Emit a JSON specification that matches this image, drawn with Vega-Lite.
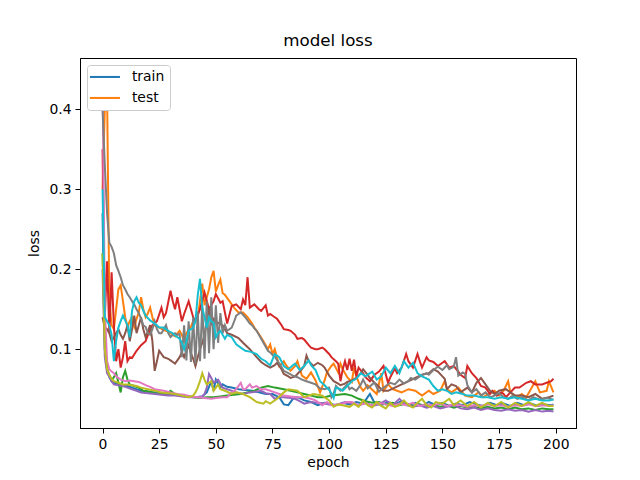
{
"$schema":"https://vega.github.io/schema/vega-lite/v6.json",
"width":496,"height":370,
"autosize":{"type":"none"},
"padding":{"left":80,"top":58,"right":64,"bottom":52},
"title":{"text":"model loss","fontSize":16.7,"fontWeight":"normal","font":"DejaVu Sans","color":"black","offset":8,"anchor":"middle"},
"config":{"font":"DejaVu Sans","view":{"stroke":"black","strokeWidth":1}},
"data":{"values":[
{"s":"train","e":0,"v":0.27},{"s":"train","e":1,"v":0.10},{"s":"train","e":2,"v":0.075},{"s":"train","e":3,"v":0.065},{"s":"train","e":4,"v":0.06},{"s":"train","e":5,"v":0.058},{"s":"train","e":7,"v":0.057},{"s":"train","e":9,"v":0.055},{"s":"train","e":11,"v":0.054},{"s":"train","e":13,"v":0.052},{"s":"train","e":15,"v":0.05},{"s":"train","e":17,"v":0.048},{"s":"train","e":20,"v":0.047},{"s":"train","e":23,"v":0.046},{"s":"train","e":26,"v":0.045},{"s":"train","e":29,"v":0.044},{"s":"train","e":32,"v":0.043},{"s":"train","e":35,"v":0.042},{"s":"train","e":38,"v":0.041},{"s":"train","e":41,"v":0.04},{"s":"train","e":44,"v":0.041},{"s":"train","e":46,"v":0.046},{"s":"train","e":48,"v":0.06},{"s":"train","e":49,"v":0.048},{"s":"train","e":50,"v":0.062},{"s":"train","e":52,"v":0.052},{"s":"train","e":53,"v":0.056},{"s":"train","e":55,"v":0.053},{"s":"train","e":57,"v":0.052},{"s":"train","e":60,"v":0.05},{"s":"train","e":63,"v":0.049},{"s":"train","e":66,"v":0.048},{"s":"train","e":69,"v":0.046},{"s":"train","e":72,"v":0.044},{"s":"train","e":75,"v":0.044},{"s":"train","e":78,"v":0.04},{"s":"train","e":80,"v":0.031},{"s":"train","e":82,"v":0.03},{"s":"train","e":84,"v":0.038},{"s":"train","e":86,"v":0.04},{"s":"train","e":89,"v":0.036},{"s":"train","e":92,"v":0.034},{"s":"train","e":95,"v":0.03},{"s":"train","e":98,"v":0.033},{"s":"train","e":100,"v":0.032},{"s":"train","e":103,"v":0.03},{"s":"train","e":106,"v":0.033},{"s":"train","e":109,"v":0.031},{"s":"train","e":112,"v":0.034},{"s":"train","e":115,"v":0.032},{"s":"train","e":118,"v":0.044},{"s":"train","e":120,"v":0.033},{"s":"train","e":123,"v":0.03},{"s":"train","e":126,"v":0.034},{"s":"train","e":129,"v":0.031},{"s":"train","e":132,"v":0.035},{"s":"train","e":135,"v":0.03},{"s":"train","e":138,"v":0.033},{"s":"train","e":141,"v":0.029},{"s":"train","e":144,"v":0.034},{"s":"train","e":147,"v":0.03},{"s":"train","e":150,"v":0.033},{"s":"train","e":153,"v":0.029},{"s":"train","e":156,"v":0.032},{"s":"train","e":159,"v":0.03},{"s":"train","e":162,"v":0.034},{"s":"train","e":165,"v":0.031},{"s":"train","e":168,"v":0.029},{"s":"train","e":171,"v":0.033},{"s":"train","e":174,"v":0.03},{"s":"train","e":177,"v":0.032},{"s":"train","e":180,"v":0.029},{"s":"train","e":183,"v":0.033},{"s":"train","e":186,"v":0.03},{"s":"train","e":189,"v":0.032},{"s":"train","e":192,"v":0.029},{"s":"train","e":195,"v":0.031},{"s":"train","e":198,"v":0.03},{"s":"train","e":199,"v":0.031},
{"s":"test","e":0,"v":0.30},{"s":"test","e":1,"v":0.40},{"s":"test","e":2,"v":0.42},{"s":"test","e":3,"v":0.16},{"s":"test","e":4,"v":0.13},{"s":"test","e":5,"v":0.125},{"s":"test","e":6,"v":0.15},{"s":"test","e":7,"v":0.175},{"s":"test","e":8,"v":0.18},{"s":"test","e":9,"v":0.16},{"s":"test","e":10,"v":0.14},{"s":"test","e":11,"v":0.128},{"s":"test","e":12,"v":0.135},{"s":"test","e":13,"v":0.14},{"s":"test","e":14,"v":0.128},{"s":"test","e":15,"v":0.138},{"s":"test","e":16,"v":0.146},{"s":"test","e":17,"v":0.165},{"s":"test","e":18,"v":0.15},{"s":"test","e":19,"v":0.14},{"s":"test","e":20,"v":0.145},{"s":"test","e":21,"v":0.152},{"s":"test","e":22,"v":0.14},{"s":"test","e":23,"v":0.13},{"s":"test","e":25,"v":0.127},{"s":"test","e":27,"v":0.124},{"s":"test","e":29,"v":0.122},{"s":"test","e":31,"v":0.118},{"s":"test","e":32,"v":0.116},{"s":"test","e":34,"v":0.123},{"s":"test","e":35,"v":0.118},{"s":"test","e":36,"v":0.11},{"s":"test","e":37,"v":0.12},{"s":"test","e":39,"v":0.128},{"s":"test","e":40,"v":0.135},{"s":"test","e":42,"v":0.14},{"s":"test","e":43,"v":0.16},{"s":"test","e":44,"v":0.182},{"s":"test","e":45,"v":0.155},{"s":"test","e":46,"v":0.165},{"s":"test","e":47,"v":0.175},{"s":"test","e":48,"v":0.19},{"s":"test","e":49,"v":0.198},{"s":"test","e":50,"v":0.172},{"s":"test","e":51,"v":0.18},{"s":"test","e":52,"v":0.187},{"s":"test","e":53,"v":0.17},{"s":"test","e":54,"v":0.168},{"s":"test","e":56,"v":0.16},{"s":"test","e":58,"v":0.152},{"s":"test","e":60,"v":0.146},{"s":"test","e":62,"v":0.146},{"s":"test","e":64,"v":0.14},{"s":"test","e":66,"v":0.132},{"s":"test","e":67,"v":0.127},{"s":"test","e":69,"v":0.119},{"s":"test","e":71,"v":0.11},{"s":"test","e":73,"v":0.1},{"s":"test","e":74,"v":0.106},{"s":"test","e":75,"v":0.094},{"s":"test","e":76,"v":0.1},{"s":"test","e":78,"v":0.079},{"s":"test","e":80,"v":0.085},{"s":"test","e":81,"v":0.08},{"s":"test","e":83,"v":0.073},{"s":"test","e":85,"v":0.079},{"s":"test","e":86,"v":0.085},{"s":"test","e":88,"v":0.067},{"s":"test","e":90,"v":0.063},{"s":"test","e":92,"v":0.071},{"s":"test","e":94,"v":0.061},{"s":"test","e":96,"v":0.046},{"s":"test","e":98,"v":0.061},{"s":"test","e":99,"v":0.071},{"s":"test","e":101,"v":0.079},{"s":"test","e":102,"v":0.082},{"s":"test","e":104,"v":0.071},{"s":"test","e":105,"v":0.082},{"s":"test","e":106,"v":0.075},{"s":"test","e":108,"v":0.065},{"s":"test","e":110,"v":0.059},{"s":"test","e":111,"v":0.077},{"s":"test","e":112,"v":0.066},{"s":"test","e":114,"v":0.052},{"s":"test","e":115,"v":0.048},{"s":"test","e":117,"v":0.055},{"s":"test","e":118,"v":0.052},{"s":"test","e":121,"v":0.044},{"s":"test","e":123,"v":0.07},{"s":"test","e":124,"v":0.048},{"s":"test","e":126,"v":0.056},{"s":"test","e":128,"v":0.05},{"s":"test","e":130,"v":0.048},{"s":"test","e":132,"v":0.046},{"s":"test","e":135,"v":0.05},{"s":"test","e":138,"v":0.048},{"s":"test","e":141,"v":0.042},{"s":"test","e":144,"v":0.048},{"s":"test","e":146,"v":0.044},{"s":"test","e":149,"v":0.048},{"s":"test","e":151,"v":0.06},{"s":"test","e":152,"v":0.05},{"s":"test","e":154,"v":0.046},{"s":"test","e":157,"v":0.052},{"s":"test","e":160,"v":0.042},{"s":"test","e":163,"v":0.04},{"s":"test","e":166,"v":0.046},{"s":"test","e":168,"v":0.04},{"s":"test","e":170,"v":0.044},{"s":"test","e":173,"v":0.048},{"s":"test","e":175,"v":0.042},{"s":"test","e":177,"v":0.048},{"s":"test","e":179,"v":0.06},{"s":"test","e":180,"v":0.046},{"s":"test","e":183,"v":0.04},{"s":"test","e":185,"v":0.044},{"s":"test","e":187,"v":0.04},{"s":"test","e":189,"v":0.05},{"s":"test","e":191,"v":0.06},{"s":"test","e":193,"v":0.046},{"s":"test","e":196,"v":0.048},{"s":"test","e":197,"v":0.06},{"s":"test","e":199,"v":0.046},
{"s":"s3","e":0,"v":0.22},{"s":"s3","e":1,"v":0.11},{"s":"s3","e":2,"v":0.075},{"s":"s3","e":3,"v":0.067},{"s":"s3","e":4,"v":0.061},{"s":"s3","e":5,"v":0.065},{"s":"s3","e":6,"v":0.07},{"s":"s3","e":7,"v":0.058},{"s":"s3","e":8,"v":0.046},{"s":"s3","e":9,"v":0.065},{"s":"s3","e":10,"v":0.073},{"s":"s3","e":11,"v":0.062},{"s":"s3","e":12,"v":0.056},{"s":"s3","e":14,"v":0.054},{"s":"s3","e":16,"v":0.052},{"s":"s3","e":18,"v":0.048},{"s":"s3","e":20,"v":0.047},{"s":"s3","e":22,"v":0.046},{"s":"s3","e":24,"v":0.044},{"s":"s3","e":26,"v":0.045},{"s":"s3","e":28,"v":0.043},{"s":"s3","e":30,"v":0.048},{"s":"s3","e":32,"v":0.044},{"s":"s3","e":34,"v":0.042},{"s":"s3","e":37,"v":0.041},{"s":"s3","e":40,"v":0.04},{"s":"s3","e":43,"v":0.039},{"s":"s3","e":46,"v":0.04},{"s":"s3","e":49,"v":0.04},{"s":"s3","e":52,"v":0.041},{"s":"s3","e":55,"v":0.042},{"s":"s3","e":58,"v":0.043},{"s":"s3","e":61,"v":0.044},{"s":"s3","e":64,"v":0.046},{"s":"s3","e":67,"v":0.048},{"s":"s3","e":70,"v":0.052},{"s":"s3","e":73,"v":0.054},{"s":"s3","e":76,"v":0.052},{"s":"s3","e":80,"v":0.05},{"s":"s3","e":83,"v":0.048},{"s":"s3","e":86,"v":0.046},{"s":"s3","e":89,"v":0.044},{"s":"s3","e":92,"v":0.042},{"s":"s3","e":95,"v":0.04},{"s":"s3","e":98,"v":0.04},{"s":"s3","e":101,"v":0.042},{"s":"s3","e":104,"v":0.043},{"s":"s3","e":107,"v":0.044},{"s":"s3","e":110,"v":0.042},{"s":"s3","e":113,"v":0.038},{"s":"s3","e":116,"v":0.035},{"s":"s3","e":119,"v":0.033},{"s":"s3","e":122,"v":0.034},{"s":"s3","e":125,"v":0.031},{"s":"s3","e":128,"v":0.033},{"s":"s3","e":131,"v":0.03},{"s":"s3","e":134,"v":0.032},{"s":"s3","e":137,"v":0.029},{"s":"s3","e":140,"v":0.031},{"s":"s3","e":143,"v":0.028},{"s":"s3","e":146,"v":0.03},{"s":"s3","e":149,"v":0.028},{"s":"s3","e":152,"v":0.03},{"s":"s3","e":155,"v":0.027},{"s":"s3","e":158,"v":0.029},{"s":"s3","e":161,"v":0.027},{"s":"s3","e":164,"v":0.028},{"s":"s3","e":167,"v":0.026},{"s":"s3","e":170,"v":0.028},{"s":"s3","e":173,"v":0.026},{"s":"s3","e":176,"v":0.027},{"s":"s3","e":179,"v":0.025},{"s":"s3","e":182,"v":0.027},{"s":"s3","e":185,"v":0.025},{"s":"s3","e":188,"v":0.026},{"s":"s3","e":191,"v":0.024},{"s":"s3","e":194,"v":0.026},{"s":"s3","e":197,"v":0.025},{"s":"s3","e":199,"v":0.025},
{"s":"s4","e":0,"v":0.35},{"s":"s4","e":1,"v":0.14},{"s":"s4","e":2,"v":0.21},{"s":"s4","e":3,"v":0.12},{"s":"s4","e":4,"v":0.196},{"s":"s4","e":5,"v":0.13},{"s":"s4","e":6,"v":0.085},{"s":"s4","e":7,"v":0.1},{"s":"s4","e":8,"v":0.077},{"s":"s4","e":9,"v":0.09},{"s":"s4","e":10,"v":0.11},{"s":"s4","e":11,"v":0.085},{"s":"s4","e":12,"v":0.09},{"s":"s4","e":13,"v":0.089},{"s":"s4","e":15,"v":0.098},{"s":"s4","e":17,"v":0.105},{"s":"s4","e":19,"v":0.11},{"s":"s4","e":21,"v":0.125},{"s":"s4","e":22,"v":0.13},{"s":"s4","e":24,"v":0.135},{"s":"s4","e":26,"v":0.152},{"s":"s4","e":27,"v":0.14},{"s":"s4","e":28,"v":0.145},{"s":"s4","e":30,"v":0.173},{"s":"s4","e":31,"v":0.16},{"s":"s4","e":32,"v":0.15},{"s":"s4","e":33,"v":0.165},{"s":"s4","e":35,"v":0.135},{"s":"s4","e":36,"v":0.144},{"s":"s4","e":38,"v":0.16},{"s":"s4","e":40,"v":0.14},{"s":"s4","e":41,"v":0.135},{"s":"s4","e":43,"v":0.15},{"s":"s4","e":45,"v":0.171},{"s":"s4","e":47,"v":0.15},{"s":"s4","e":49,"v":0.16},{"s":"s4","e":50,"v":0.169},{"s":"s4","e":52,"v":0.158},{"s":"s4","e":53,"v":0.16},{"s":"s4","e":55,"v":0.132},{"s":"s4","e":57,"v":0.154},{"s":"s4","e":59,"v":0.156},{"s":"s4","e":61,"v":0.15},{"s":"s4","e":62,"v":0.162},{"s":"s4","e":63,"v":0.155},{"s":"s4","e":64,"v":0.19},{"s":"s4","e":65,"v":0.152},{"s":"s4","e":67,"v":0.156},{"s":"s4","e":69,"v":0.15},{"s":"s4","e":70,"v":0.148},{"s":"s4","e":72,"v":0.155},{"s":"s4","e":73,"v":0.142},{"s":"s4","e":74,"v":0.144},{"s":"s4","e":76,"v":0.14},{"s":"s4","e":77,"v":0.138},{"s":"s4","e":79,"v":0.13},{"s":"s4","e":80,"v":0.125},{"s":"s4","e":82,"v":0.124},{"s":"s4","e":83,"v":0.123},{"s":"s4","e":85,"v":0.118},{"s":"s4","e":86,"v":0.113},{"s":"s4","e":88,"v":0.114},{"s":"s4","e":89,"v":0.112},{"s":"s4","e":91,"v":0.105},{"s":"s4","e":92,"v":0.102},{"s":"s4","e":94,"v":0.1},{"s":"s4","e":95,"v":0.1},{"s":"s4","e":97,"v":0.102},{"s":"s4","e":98,"v":0.1},{"s":"s4","e":100,"v":0.094},{"s":"s4","e":101,"v":0.09},{"s":"s4","e":103,"v":0.085},{"s":"s4","e":104,"v":0.082},{"s":"s4","e":105,"v":0.06},{"s":"s4","e":106,"v":0.075},{"s":"s4","e":107,"v":0.085},{"s":"s4","e":108,"v":0.074},{"s":"s4","e":109,"v":0.088},{"s":"s4","e":110,"v":0.073},{"s":"s4","e":111,"v":0.087},{"s":"s4","e":112,"v":0.066},{"s":"s4","e":113,"v":0.077},{"s":"s4","e":115,"v":0.07},{"s":"s4","e":116,"v":0.065},{"s":"s4","e":118,"v":0.06},{"s":"s4","e":120,"v":0.068},{"s":"s4","e":122,"v":0.072},{"s":"s4","e":124,"v":0.079},{"s":"s4","e":126,"v":0.058},{"s":"s4","e":127,"v":0.065},{"s":"s4","e":129,"v":0.076},{"s":"s4","e":130,"v":0.07},{"s":"s4","e":132,"v":0.077},{"s":"s4","e":134,"v":0.094},{"s":"s4","e":135,"v":0.085},{"s":"s4","e":137,"v":0.077},{"s":"s4","e":139,"v":0.094},{"s":"s4","e":140,"v":0.085},{"s":"s4","e":141,"v":0.077},{"s":"s4","e":143,"v":0.09},{"s":"s4","e":144,"v":0.086},{"s":"s4","e":146,"v":0.084},{"s":"s4","e":148,"v":0.079},{"s":"s4","e":150,"v":0.083},{"s":"s4","e":151,"v":0.085},{"s":"s4","e":153,"v":0.077},{"s":"s4","e":155,"v":0.079},{"s":"s4","e":157,"v":0.072},{"s":"s4","e":158,"v":0.068},{"s":"s4","e":160,"v":0.064},{"s":"s4","e":161,"v":0.079},{"s":"s4","e":163,"v":0.07},{"s":"s4","e":165,"v":0.064},{"s":"s4","e":167,"v":0.054},{"s":"s4","e":169,"v":0.052},{"s":"s4","e":171,"v":0.044},{"s":"s4","e":172,"v":0.048},{"s":"s4","e":174,"v":0.042},{"s":"s4","e":176,"v":0.046},{"s":"s4","e":177,"v":0.044},{"s":"s4","e":178,"v":0.04},{"s":"s4","e":180,"v":0.046},{"s":"s4","e":182,"v":0.052},{"s":"s4","e":184,"v":0.052},{"s":"s4","e":187,"v":0.058},{"s":"s4","e":189,"v":0.06},{"s":"s4","e":191,"v":0.056},{"s":"s4","e":194,"v":0.056},{"s":"s4","e":196,"v":0.058},{"s":"s4","e":198,"v":0.06},{"s":"s4","e":199,"v":0.063},
{"s":"s5","e":0,"v":0.2},{"s":"s5","e":1,"v":0.09},{"s":"s5","e":2,"v":0.07},{"s":"s5","e":3,"v":0.066},{"s":"s5","e":4,"v":0.06},{"s":"s5","e":5,"v":0.056},{"s":"s5","e":7,"v":0.055},{"s":"s5","e":9,"v":0.054},{"s":"s5","e":11,"v":0.052},{"s":"s5","e":13,"v":0.05},{"s":"s5","e":15,"v":0.048},{"s":"s5","e":17,"v":0.046},{"s":"s5","e":20,"v":0.045},{"s":"s5","e":23,"v":0.044},{"s":"s5","e":26,"v":0.043},{"s":"s5","e":29,"v":0.042},{"s":"s5","e":32,"v":0.042},{"s":"s5","e":35,"v":0.041},{"s":"s5","e":38,"v":0.04},{"s":"s5","e":41,"v":0.04},{"s":"s5","e":44,"v":0.041},{"s":"s5","e":45,"v":0.044},{"s":"s5","e":46,"v":0.052},{"s":"s5","e":47,"v":0.069},{"s":"s5","e":48,"v":0.064},{"s":"s5","e":49,"v":0.058},{"s":"s5","e":50,"v":0.06},{"s":"s5","e":51,"v":0.062},{"s":"s5","e":53,"v":0.052},{"s":"s5","e":55,"v":0.05},{"s":"s5","e":57,"v":0.048},{"s":"s5","e":59,"v":0.046},{"s":"s5","e":62,"v":0.044},{"s":"s5","e":65,"v":0.046},{"s":"s5","e":68,"v":0.047},{"s":"s5","e":70,"v":0.048},{"s":"s5","e":72,"v":0.045},{"s":"s5","e":74,"v":0.044},{"s":"s5","e":76,"v":0.038},{"s":"s5","e":78,"v":0.04},{"s":"s5","e":80,"v":0.04},{"s":"s5","e":83,"v":0.039},{"s":"s5","e":85,"v":0.038},{"s":"s5","e":87,"v":0.035},{"s":"s5","e":89,"v":0.032},{"s":"s5","e":92,"v":0.034},{"s":"s5","e":95,"v":0.033},{"s":"s5","e":98,"v":0.032},{"s":"s5","e":100,"v":0.031},{"s":"s5","e":102,"v":0.03},{"s":"s5","e":105,"v":0.032},{"s":"s5","e":107,"v":0.034},{"s":"s5","e":110,"v":0.032},{"s":"s5","e":113,"v":0.03},{"s":"s5","e":116,"v":0.033},{"s":"s5","e":119,"v":0.029},{"s":"s5","e":122,"v":0.031},{"s":"s5","e":125,"v":0.036},{"s":"s5","e":128,"v":0.03},{"s":"s5","e":131,"v":0.038},{"s":"s5","e":134,"v":0.03},{"s":"s5","e":137,"v":0.028},{"s":"s5","e":140,"v":0.03},{"s":"s5","e":143,"v":0.027},{"s":"s5","e":146,"v":0.029},{"s":"s5","e":149,"v":0.026},{"s":"s5","e":152,"v":0.028},{"s":"s5","e":155,"v":0.03},{"s":"s5","e":158,"v":0.026},{"s":"s5","e":161,"v":0.025},{"s":"s5","e":164,"v":0.027},{"s":"s5","e":167,"v":0.024},{"s":"s5","e":170,"v":0.026},{"s":"s5","e":173,"v":0.024},{"s":"s5","e":176,"v":0.023},{"s":"s5","e":179,"v":0.025},{"s":"s5","e":182,"v":0.023},{"s":"s5","e":185,"v":0.024},{"s":"s5","e":188,"v":0.022},{"s":"s5","e":191,"v":0.024},{"s":"s5","e":194,"v":0.022},{"s":"s5","e":197,"v":0.023},{"s":"s5","e":199,"v":0.022},
{"s":"s6","e":0,"v":0.14},{"s":"s6","e":1,"v":0.127},{"s":"s6","e":2,"v":0.125},{"s":"s6","e":3,"v":0.12},{"s":"s6","e":4,"v":0.11},{"s":"s6","e":5,"v":0.115},{"s":"s6","e":6,"v":0.12},{"s":"s6","e":7,"v":0.125},{"s":"s6","e":8,"v":0.118},{"s":"s6","e":9,"v":0.113},{"s":"s6","e":10,"v":0.12},{"s":"s6","e":11,"v":0.13},{"s":"s6","e":12,"v":0.11},{"s":"s6","e":13,"v":0.125},{"s":"s6","e":14,"v":0.142},{"s":"s6","e":15,"v":0.12},{"s":"s6","e":16,"v":0.13},{"s":"s6","e":17,"v":0.14},{"s":"s6","e":18,"v":0.125},{"s":"s6","e":19,"v":0.115},{"s":"s6","e":20,"v":0.122},{"s":"s6","e":21,"v":0.13},{"s":"s6","e":22,"v":0.11},{"s":"s6","e":23,"v":0.073},{"s":"s6","e":24,"v":0.085},{"s":"s6","e":25,"v":0.098},{"s":"s6","e":26,"v":0.094},{"s":"s6","e":27,"v":0.09},{"s":"s6","e":29,"v":0.088},{"s":"s6","e":30,"v":0.086},{"s":"s6","e":31,"v":0.084},{"s":"s6","e":32,"v":0.082},{"s":"s6","e":33,"v":0.086},{"s":"s6","e":34,"v":0.09},{"s":"s6","e":35,"v":0.096},{"s":"s6","e":36,"v":0.09},{"s":"s6","e":37,"v":0.098},{"s":"s6","e":38,"v":0.105},{"s":"s6","e":39,"v":0.095},{"s":"s6","e":40,"v":0.088},{"s":"s6","e":41,"v":0.079},{"s":"s6","e":42,"v":0.09},{"s":"s6","e":43,"v":0.1},{"s":"s6","e":44,"v":0.108},{"s":"s6","e":45,"v":0.118},{"s":"s6","e":46,"v":0.135},{"s":"s6","e":47,"v":0.152},{"s":"s6","e":48,"v":0.13},{"s":"s6","e":49,"v":0.138},{"s":"s6","e":50,"v":0.135},{"s":"s6","e":51,"v":0.133},{"s":"s6","e":53,"v":0.13},{"s":"s6","e":55,"v":0.12},{"s":"s6","e":57,"v":0.118},{"s":"s6","e":60,"v":0.114},{"s":"s6","e":62,"v":0.108},{"s":"s6","e":65,"v":0.1},{"s":"s6","e":68,"v":0.09},{"s":"s6","e":70,"v":0.084},{"s":"s6","e":72,"v":0.08},{"s":"s6","e":74,"v":0.077},{"s":"s6","e":76,"v":0.08},{"s":"s6","e":77,"v":0.083},{"s":"s6","e":79,"v":0.075},{"s":"s6","e":80,"v":0.069},{"s":"s6","e":82,"v":0.066},{"s":"s6","e":83,"v":0.064},{"s":"s6","e":85,"v":0.066},{"s":"s6","e":86,"v":0.069},{"s":"s6","e":88,"v":0.075},{"s":"s6","e":89,"v":0.079},{"s":"s6","e":90,"v":0.092},{"s":"s6","e":91,"v":0.085},{"s":"s6","e":93,"v":0.079},{"s":"s6","e":95,"v":0.083},{"s":"s6","e":97,"v":0.08},{"s":"s6","e":98,"v":0.077},{"s":"s6","e":100,"v":0.067},{"s":"s6","e":102,"v":0.06},{"s":"s6","e":104,"v":0.057},{"s":"s6","e":105,"v":0.055},{"s":"s6","e":107,"v":0.057},{"s":"s6","e":108,"v":0.059},{"s":"s6","e":110,"v":0.061},{"s":"s6","e":112,"v":0.064},{"s":"s6","e":114,"v":0.07},{"s":"s6","e":115,"v":0.075},{"s":"s6","e":117,"v":0.068},{"s":"s6","e":118,"v":0.064},{"s":"s6","e":120,"v":0.058},{"s":"s6","e":121,"v":0.056},{"s":"s6","e":123,"v":0.05},{"s":"s6","e":124,"v":0.048},{"s":"s6","e":126,"v":0.048},{"s":"s6","e":129,"v":0.052},{"s":"s6","e":132,"v":0.056},{"s":"s6","e":135,"v":0.06},{"s":"s6","e":138,"v":0.064},{"s":"s6","e":141,"v":0.068},{"s":"s6","e":144,"v":0.07},{"s":"s6","e":146,"v":0.075},{"s":"s6","e":148,"v":0.072},{"s":"s6","e":150,"v":0.066},{"s":"s6","e":151,"v":0.063},{"s":"s6","e":152,"v":0.05},{"s":"s6","e":154,"v":0.056},{"s":"s6","e":156,"v":0.054},{"s":"s6","e":158,"v":0.046},{"s":"s6","e":161,"v":0.052},{"s":"s6","e":163,"v":0.046},{"s":"s6","e":165,"v":0.058},{"s":"s6","e":167,"v":0.064},{"s":"s6","e":169,"v":0.056},{"s":"s6","e":171,"v":0.048},{"s":"s6","e":173,"v":0.044},{"s":"s6","e":175,"v":0.048},{"s":"s6","e":178,"v":0.05},{"s":"s6","e":180,"v":0.046},{"s":"s6","e":182,"v":0.042},{"s":"s6","e":185,"v":0.042},{"s":"s6","e":188,"v":0.04},{"s":"s6","e":191,"v":0.044},{"s":"s6","e":194,"v":0.038},{"s":"s6","e":197,"v":0.04},{"s":"s6","e":199,"v":0.042},
{"s":"s7","e":0,"v":0.443},{"s":"s7","e":1,"v":0.15},{"s":"s7","e":2,"v":0.085},{"s":"s7","e":3,"v":0.075},{"s":"s7","e":4,"v":0.072},{"s":"s7","e":5,"v":0.07},{"s":"s7","e":6,"v":0.066},{"s":"s7","e":8,"v":0.062},{"s":"s7","e":10,"v":0.06},{"s":"s7","e":12,"v":0.061},{"s":"s7","e":14,"v":0.06},{"s":"s7","e":16,"v":0.059},{"s":"s7","e":17,"v":0.058},{"s":"s7","e":19,"v":0.055},{"s":"s7","e":21,"v":0.053},{"s":"s7","e":23,"v":0.05},{"s":"s7","e":25,"v":0.049},{"s":"s7","e":27,"v":0.048},{"s":"s7","e":30,"v":0.046},{"s":"s7","e":33,"v":0.044},{"s":"s7","e":36,"v":0.043},{"s":"s7","e":39,"v":0.041},{"s":"s7","e":42,"v":0.04},{"s":"s7","e":45,"v":0.039},{"s":"s7","e":48,"v":0.038},{"s":"s7","e":50,"v":0.039},{"s":"s7","e":53,"v":0.04},{"s":"s7","e":55,"v":0.04},{"s":"s7","e":57,"v":0.046},{"s":"s7","e":59,"v":0.05},{"s":"s7","e":61,"v":0.058},{"s":"s7","e":62,"v":0.05},{"s":"s7","e":63,"v":0.05},{"s":"s7","e":65,"v":0.056},{"s":"s7","e":66,"v":0.052},{"s":"s7","e":68,"v":0.054},{"s":"s7","e":70,"v":0.05},{"s":"s7","e":72,"v":0.05},{"s":"s7","e":74,"v":0.048},{"s":"s7","e":76,"v":0.046},{"s":"s7","e":78,"v":0.044},{"s":"s7","e":80,"v":0.042},{"s":"s7","e":83,"v":0.041},{"s":"s7","e":86,"v":0.04},{"s":"s7","e":89,"v":0.04},{"s":"s7","e":92,"v":0.038},{"s":"s7","e":94,"v":0.036},{"s":"s7","e":96,"v":0.032},{"s":"s7","e":97,"v":0.03},{"s":"s7","e":99,"v":0.034},{"s":"s7","e":101,"v":0.03},{"s":"s7","e":104,"v":0.031},{"s":"s7","e":106,"v":0.032},{"s":"s7","e":108,"v":0.034},{"s":"s7","e":110,"v":0.034},{"s":"s7","e":113,"v":0.03},{"s":"s7","e":116,"v":0.032},{"s":"s7","e":119,"v":0.03},{"s":"s7","e":122,"v":0.033},{"s":"s7","e":125,"v":0.031},{"s":"s7","e":128,"v":0.029},{"s":"s7","e":131,"v":0.032},{"s":"s7","e":134,"v":0.03},{"s":"s7","e":137,"v":0.033},{"s":"s7","e":140,"v":0.029},{"s":"s7","e":143,"v":0.031},{"s":"s7","e":146,"v":0.03},{"s":"s7","e":149,"v":0.032},{"s":"s7","e":152,"v":0.029},{"s":"s7","e":155,"v":0.031},{"s":"s7","e":158,"v":0.03},{"s":"s7","e":161,"v":0.028},{"s":"s7","e":164,"v":0.03},{"s":"s7","e":167,"v":0.029},{"s":"s7","e":170,"v":0.031},{"s":"s7","e":173,"v":0.029},{"s":"s7","e":176,"v":0.03},{"s":"s7","e":179,"v":0.028},{"s":"s7","e":182,"v":0.03},{"s":"s7","e":185,"v":0.029},{"s":"s7","e":188,"v":0.031},{"s":"s7","e":191,"v":0.029},{"s":"s7","e":194,"v":0.03},{"s":"s7","e":197,"v":0.029},{"s":"s7","e":199,"v":0.03},
{"s":"s8","e":0,"v":0.40},{"s":"s8","e":1,"v":0.33},{"s":"s8","e":2,"v":0.27},{"s":"s8","e":3,"v":0.233},{"s":"s8","e":4,"v":0.228},{"s":"s8","e":5,"v":0.22},{"s":"s8","e":6,"v":0.205},{"s":"s8","e":7,"v":0.198},{"s":"s8","e":8,"v":0.19},{"s":"s8","e":9,"v":0.18},{"s":"s8","e":10,"v":0.175},{"s":"s8","e":11,"v":0.169},{"s":"s8","e":12,"v":0.165},{"s":"s8","e":13,"v":0.16},{"s":"s8","e":14,"v":0.156},{"s":"s8","e":15,"v":0.15},{"s":"s8","e":16,"v":0.145},{"s":"s8","e":17,"v":0.138},{"s":"s8","e":18,"v":0.13},{"s":"s8","e":19,"v":0.128},{"s":"s8","e":20,"v":0.12},{"s":"s8","e":21,"v":0.118},{"s":"s8","e":22,"v":0.125},{"s":"s8","e":23,"v":0.135},{"s":"s8","e":24,"v":0.125},{"s":"s8","e":25,"v":0.12},{"s":"s8","e":26,"v":0.12},{"s":"s8","e":27,"v":0.125},{"s":"s8","e":28,"v":0.13},{"s":"s8","e":29,"v":0.12},{"s":"s8","e":30,"v":0.115},{"s":"s8","e":31,"v":0.118},{"s":"s8","e":32,"v":0.12},{"s":"s8","e":33,"v":0.118},{"s":"s8","e":34,"v":0.119},{"s":"s8","e":35,"v":0.09},{"s":"s8","e":36,"v":0.13},{"s":"s8","e":37,"v":0.086},{"s":"s8","e":38,"v":0.135},{"s":"s8","e":39,"v":0.084},{"s":"s8","e":40,"v":0.14},{"s":"s8","e":41,"v":0.082},{"s":"s8","e":42,"v":0.147},{"s":"s8","e":43,"v":0.085},{"s":"s8","e":44,"v":0.155},{"s":"s8","e":45,"v":0.088},{"s":"s8","e":46,"v":0.16},{"s":"s8","e":47,"v":0.095},{"s":"s8","e":48,"v":0.165},{"s":"s8","e":49,"v":0.1},{"s":"s8","e":50,"v":0.155},{"s":"s8","e":51,"v":0.108},{"s":"s8","e":52,"v":0.145},{"s":"s8","e":53,"v":0.12},{"s":"s8","e":54,"v":0.13},{"s":"s8","e":55,"v":0.123},{"s":"s8","e":56,"v":0.125},{"s":"s8","e":57,"v":0.127},{"s":"s8","e":58,"v":0.134},{"s":"s8","e":59,"v":0.142},{"s":"s8","e":60,"v":0.144},{"s":"s8","e":61,"v":0.146},{"s":"s8","e":62,"v":0.143},{"s":"s8","e":63,"v":0.14},{"s":"s8","e":64,"v":0.136},{"s":"s8","e":65,"v":0.132},{"s":"s8","e":66,"v":0.13},{"s":"s8","e":67,"v":0.126},{"s":"s8","e":68,"v":0.123},{"s":"s8","e":69,"v":0.118},{"s":"s8","e":70,"v":0.113},{"s":"s8","e":71,"v":0.108},{"s":"s8","e":72,"v":0.103},{"s":"s8","e":73,"v":0.098},{"s":"s8","e":74,"v":0.096},{"s":"s8","e":75,"v":0.093},{"s":"s8","e":76,"v":0.091},{"s":"s8","e":78,"v":0.082},{"s":"s8","e":80,"v":0.073},{"s":"s8","e":82,"v":0.07},{"s":"s8","e":84,"v":0.067},{"s":"s8","e":86,"v":0.065},{"s":"s8","e":88,"v":0.062},{"s":"s8","e":90,"v":0.06},{"s":"s8","e":92,"v":0.058},{"s":"s8","e":94,"v":0.056},{"s":"s8","e":96,"v":0.051},{"s":"s8","e":98,"v":0.05},{"s":"s8","e":100,"v":0.052},{"s":"s8","e":101,"v":0.04},{"s":"s8","e":102,"v":0.045},{"s":"s8","e":103,"v":0.054},{"s":"s8","e":105,"v":0.048},{"s":"s8","e":106,"v":0.05},{"s":"s8","e":108,"v":0.056},{"s":"s8","e":109,"v":0.05},{"s":"s8","e":110,"v":0.052},{"s":"s8","e":112,"v":0.048},{"s":"s8","e":114,"v":0.056},{"s":"s8","e":115,"v":0.062},{"s":"s8","e":117,"v":0.051},{"s":"s8","e":119,"v":0.056},{"s":"s8","e":120,"v":0.058},{"s":"s8","e":122,"v":0.047},{"s":"s8","e":124,"v":0.052},{"s":"s8","e":125,"v":0.054},{"s":"s8","e":127,"v":0.058},{"s":"s8","e":129,"v":0.056},{"s":"s8","e":131,"v":0.062},{"s":"s8","e":133,"v":0.057},{"s":"s8","e":135,"v":0.06},{"s":"s8","e":136,"v":0.064},{"s":"s8","e":138,"v":0.062},{"s":"s8","e":140,"v":0.066},{"s":"s8","e":141,"v":0.068},{"s":"s8","e":143,"v":0.07},{"s":"s8","e":144,"v":0.068},{"s":"s8","e":146,"v":0.074},{"s":"s8","e":148,"v":0.078},{"s":"s8","e":150,"v":0.074},{"s":"s8","e":152,"v":0.08},{"s":"s8","e":153,"v":0.075},{"s":"s8","e":155,"v":0.078},{"s":"s8","e":156,"v":0.09},{"s":"s8","e":157,"v":0.067},{"s":"s8","e":159,"v":0.071},{"s":"s8","e":160,"v":0.069},{"s":"s8","e":161,"v":0.055},{"s":"s8","e":163,"v":0.046},{"s":"s8","e":165,"v":0.05},{"s":"s8","e":167,"v":0.042},{"s":"s8","e":169,"v":0.046},{"s":"s8","e":171,"v":0.04},{"s":"s8","e":173,"v":0.042},{"s":"s8","e":175,"v":0.045},{"s":"s8","e":177,"v":0.04},{"s":"s8","e":179,"v":0.038},{"s":"s8","e":181,"v":0.042},{"s":"s8","e":183,"v":0.038},{"s":"s8","e":185,"v":0.04},{"s":"s8","e":188,"v":0.036},{"s":"s8","e":190,"v":0.04},{"s":"s8","e":193,"v":0.037},{"s":"s8","e":196,"v":0.039},{"s":"s8","e":199,"v":0.037},
{"s":"s9","e":0,"v":0.22},{"s":"s9","e":1,"v":0.1},{"s":"s9","e":2,"v":0.075},{"s":"s9","e":3,"v":0.068},{"s":"s9","e":4,"v":0.063},{"s":"s9","e":5,"v":0.06},{"s":"s9","e":7,"v":0.058},{"s":"s9","e":9,"v":0.056},{"s":"s9","e":11,"v":0.056},{"s":"s9","e":13,"v":0.055},{"s":"s9","e":15,"v":0.054},{"s":"s9","e":17,"v":0.052},{"s":"s9","e":20,"v":0.05},{"s":"s9","e":23,"v":0.048},{"s":"s9","e":26,"v":0.046},{"s":"s9","e":29,"v":0.045},{"s":"s9","e":32,"v":0.044},{"s":"s9","e":35,"v":0.042},{"s":"s9","e":38,"v":0.04},{"s":"s9","e":40,"v":0.042},{"s":"s9","e":41,"v":0.046},{"s":"s9","e":42,"v":0.052},{"s":"s9","e":43,"v":0.06},{"s":"s9","e":44,"v":0.07},{"s":"s9","e":45,"v":0.062},{"s":"s9","e":46,"v":0.056},{"s":"s9","e":47,"v":0.058},{"s":"s9","e":48,"v":0.06},{"s":"s9","e":49,"v":0.048},{"s":"s9","e":50,"v":0.052},{"s":"s9","e":51,"v":0.056},{"s":"s9","e":52,"v":0.05},{"s":"s9","e":54,"v":0.048},{"s":"s9","e":57,"v":0.044},{"s":"s9","e":59,"v":0.046},{"s":"s9","e":62,"v":0.044},{"s":"s9","e":65,"v":0.04},{"s":"s9","e":68,"v":0.034},{"s":"s9","e":71,"v":0.032},{"s":"s9","e":72,"v":0.035},{"s":"s9","e":74,"v":0.032},{"s":"s9","e":77,"v":0.038},{"s":"s9","e":80,"v":0.046},{"s":"s9","e":82,"v":0.05},{"s":"s9","e":84,"v":0.049},{"s":"s9","e":86,"v":0.048},{"s":"s9","e":89,"v":0.04},{"s":"s9","e":91,"v":0.042},{"s":"s9","e":93,"v":0.044},{"s":"s9","e":95,"v":0.043},{"s":"s9","e":97,"v":0.042},{"s":"s9","e":100,"v":0.036},{"s":"s9","e":102,"v":0.028},{"s":"s9","e":104,"v":0.031},{"s":"s9","e":106,"v":0.03},{"s":"s9","e":109,"v":0.028},{"s":"s9","e":111,"v":0.032},{"s":"s9","e":113,"v":0.028},{"s":"s9","e":115,"v":0.036},{"s":"s9","e":117,"v":0.03},{"s":"s9","e":119,"v":0.027},{"s":"s9","e":121,"v":0.034},{"s":"s9","e":123,"v":0.029},{"s":"s9","e":125,"v":0.026},{"s":"s9","e":127,"v":0.033},{"s":"s9","e":129,"v":0.028},{"s":"s9","e":131,"v":0.03},{"s":"s9","e":133,"v":0.036},{"s":"s9","e":135,"v":0.03},{"s":"s9","e":137,"v":0.027},{"s":"s9","e":139,"v":0.033},{"s":"s9","e":141,"v":0.038},{"s":"s9","e":143,"v":0.03},{"s":"s9","e":145,"v":0.027},{"s":"s9","e":147,"v":0.034},{"s":"s9","e":150,"v":0.032},{"s":"s9","e":153,"v":0.038},{"s":"s9","e":155,"v":0.03},{"s":"s9","e":158,"v":0.036},{"s":"s9","e":161,"v":0.029},{"s":"s9","e":164,"v":0.034},{"s":"s9","e":167,"v":0.027},{"s":"s9","e":170,"v":0.033},{"s":"s9","e":173,"v":0.029},{"s":"s9","e":176,"v":0.034},{"s":"s9","e":179,"v":0.027},{"s":"s9","e":182,"v":0.033},{"s":"s9","e":185,"v":0.029},{"s":"s9","e":188,"v":0.034},{"s":"s9","e":191,"v":0.029},{"s":"s9","e":194,"v":0.033},{"s":"s9","e":197,"v":0.029},{"s":"s9","e":199,"v":0.029},
{"s":"s10","e":0,"v":0.30},{"s":"s10","e":1,"v":0.14},{"s":"s10","e":2,"v":0.135},{"s":"s10","e":3,"v":0.13},{"s":"s10","e":4,"v":0.118},{"s":"s10","e":5,"v":0.085},{"s":"s10","e":6,"v":0.11},{"s":"s10","e":7,"v":0.127},{"s":"s10","e":8,"v":0.135},{"s":"s10","e":9,"v":0.142},{"s":"s10","e":10,"v":0.136},{"s":"s10","e":11,"v":0.13},{"s":"s10","e":12,"v":0.115},{"s":"s10","e":13,"v":0.148},{"s":"s10","e":14,"v":0.16},{"s":"s10","e":15,"v":0.165},{"s":"s10","e":16,"v":0.158},{"s":"s10","e":17,"v":0.155},{"s":"s10","e":18,"v":0.148},{"s":"s10","e":19,"v":0.142},{"s":"s10","e":21,"v":0.136},{"s":"s10","e":22,"v":0.134},{"s":"s10","e":24,"v":0.13},{"s":"s10","e":25,"v":0.127},{"s":"s10","e":27,"v":0.127},{"s":"s10","e":29,"v":0.123},{"s":"s10","e":31,"v":0.12},{"s":"s10","e":32,"v":0.117},{"s":"s10","e":34,"v":0.113},{"s":"s10","e":35,"v":0.108},{"s":"s10","e":36,"v":0.1},{"s":"s10","e":37,"v":0.11},{"s":"s10","e":38,"v":0.123},{"s":"s10","e":40,"v":0.127},{"s":"s10","e":41,"v":0.135},{"s":"s10","e":42,"v":0.167},{"s":"s10","e":43,"v":0.188},{"s":"s10","e":44,"v":0.152},{"s":"s10","e":45,"v":0.14},{"s":"s10","e":46,"v":0.127},{"s":"s10","e":47,"v":0.14},{"s":"s10","e":48,"v":0.135},{"s":"s10","e":49,"v":0.133},{"s":"s10","e":50,"v":0.115},{"s":"s10","e":51,"v":0.12},{"s":"s10","e":52,"v":0.123},{"s":"s10","e":54,"v":0.113},{"s":"s10","e":55,"v":0.118},{"s":"s10","e":57,"v":0.115},{"s":"s10","e":59,"v":0.106},{"s":"s10","e":61,"v":0.102},{"s":"s10","e":63,"v":0.098},{"s":"s10","e":65,"v":0.097},{"s":"s10","e":66,"v":0.096},{"s":"s10","e":68,"v":0.094},{"s":"s10","e":70,"v":0.088},{"s":"s10","e":72,"v":0.085},{"s":"s10","e":73,"v":0.082},{"s":"s10","e":74,"v":0.08},{"s":"s10","e":76,"v":0.094},{"s":"s10","e":78,"v":0.09},{"s":"s10","e":80,"v":0.079},{"s":"s10","e":82,"v":0.075},{"s":"s10","e":84,"v":0.08},{"s":"s10","e":85,"v":0.082},{"s":"s10","e":87,"v":0.074},{"s":"s10","e":89,"v":0.079},{"s":"s10","e":91,"v":0.086},{"s":"s10","e":92,"v":0.08},{"s":"s10","e":94,"v":0.074},{"s":"s10","e":96,"v":0.06},{"s":"s10","e":98,"v":0.055},{"s":"s10","e":100,"v":0.049},{"s":"s10","e":101,"v":0.045},{"s":"s10","e":102,"v":0.039},{"s":"s10","e":103,"v":0.052},{"s":"s10","e":105,"v":0.05},{"s":"s10","e":106,"v":0.048},{"s":"s10","e":108,"v":0.054},{"s":"s10","e":110,"v":0.06},{"s":"s10","e":112,"v":0.063},{"s":"s10","e":114,"v":0.07},{"s":"s10","e":116,"v":0.066},{"s":"s10","e":119,"v":0.072},{"s":"s10","e":121,"v":0.062},{"s":"s10","e":123,"v":0.066},{"s":"s10","e":125,"v":0.077},{"s":"s10","e":127,"v":0.07},{"s":"s10","e":129,"v":0.079},{"s":"s10","e":131,"v":0.07},{"s":"s10","e":133,"v":0.085},{"s":"s10","e":135,"v":0.077},{"s":"s10","e":137,"v":0.083},{"s":"s10","e":139,"v":0.07},{"s":"s10","e":141,"v":0.066},{"s":"s10","e":144,"v":0.062},{"s":"s10","e":146,"v":0.054},{"s":"s10","e":148,"v":0.048},{"s":"s10","e":150,"v":0.05},{"s":"s10","e":152,"v":0.048},{"s":"s10","e":154,"v":0.044},{"s":"s10","e":156,"v":0.046},{"s":"s10","e":159,"v":0.044},{"s":"s10","e":161,"v":0.042},{"s":"s10","e":164,"v":0.042},{"s":"s10","e":167,"v":0.04},{"s":"s10","e":170,"v":0.04},{"s":"s10","e":173,"v":0.038},{"s":"s10","e":176,"v":0.04},{"s":"s10","e":179,"v":0.038},{"s":"s10","e":182,"v":0.04},{"s":"s10","e":185,"v":0.038},{"s":"s10","e":188,"v":0.036},{"s":"s10","e":191,"v":0.038},{"s":"s10","e":194,"v":0.036},{"s":"s10","e":197,"v":0.036},{"s":"s10","e":199,"v":0.037}
]},
"mark":{"type":"line","strokeWidth":2,"clip":true},
"encoding":{
"x":{"field":"e","type":"quantitative","scale":{"domain":[-9.95,208.95],"nice":false,"zero":false},
"axis":{"title":"epoch","values":[0,25,50,75,100,125,150,175,200],"format":"d","grid":false,"domainColor":"black","tickColor":"black","tickSize":5,"labelFontSize":13.9,"labelColor":"black","labelPadding":4,"titleFontSize":13.9,"titleFontWeight":"normal","titleColor":"black","titlePadding":5,"labelFont":"DejaVu Sans","titleFont":"DejaVu Sans"}},
"y":{"field":"v","type":"quantitative","scale":{"domain":[0.0015,0.464],"nice":false,"zero":false},
"axis":{"title":"loss","values":[0.1,0.2,0.3,0.4],"format":".1f","grid":false,"domainColor":"black","tickColor":"black","tickSize":5,"labelFontSize":13.9,"labelColor":"black","labelPadding":4,"titleFontSize":13.9,"titleFontWeight":"normal","titleColor":"black","titlePadding":7,"labelFont":"DejaVu Sans","titleFont":"DejaVu Sans"}},
"color":{"field":"s","type":"nominal","sort":null,
"scale":{"domain":["train","test","s3","s4","s5","s6","s7","s8","s9","s10"],"range":["#1f77b4","#ff7f0e","#2ca02c","#d62728","#9467bd","#8c564b","#e377c2","#7f7f7f","#bcbd22","#17becf"]},
"legend":{"values":["train","test"],"title":null,"orient":"none","legendX":7,"legendY":7,"symbolType":"M-3,0H3","symbolSize":100,"symbolOffset":6,"symbolStrokeWidth":2,"labelFontSize":13.9,"labelFont":"DejaVu Sans","labelColor":"black","strokeColor":"#cccccc","fillColor":"white","cornerRadius":3,"padding":5,"rowPadding":6,"labelOffset":20}}
}
}
